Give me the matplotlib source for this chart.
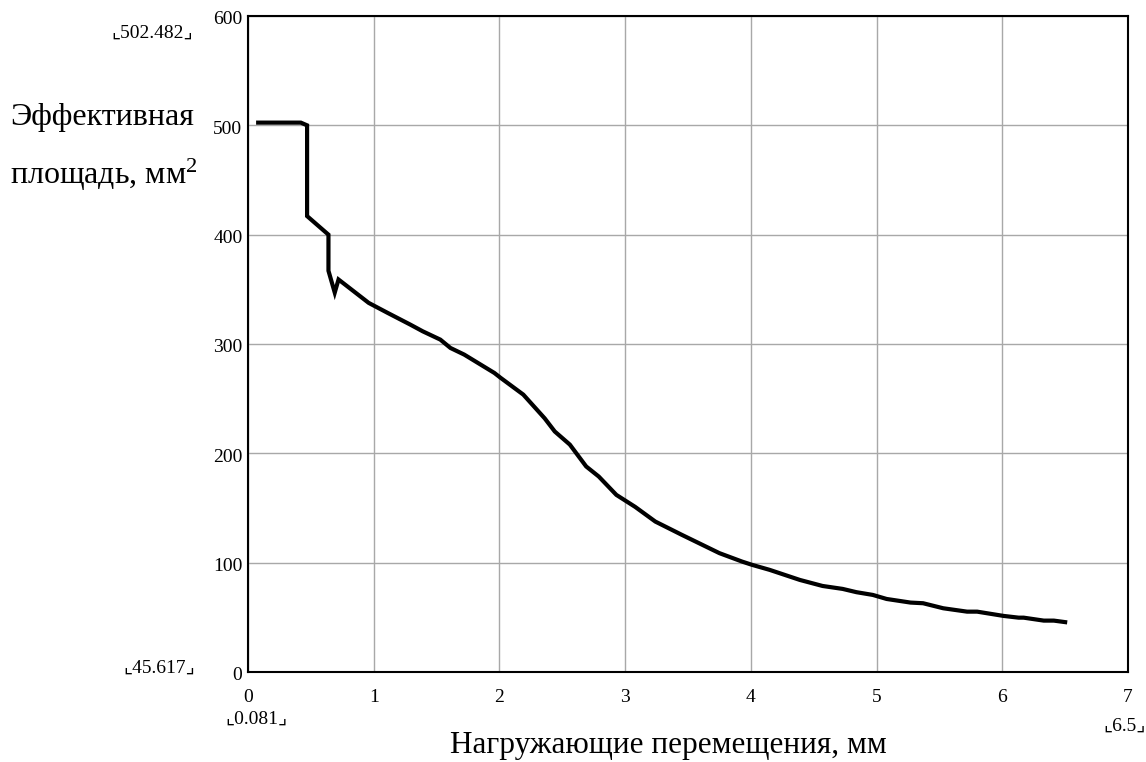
import numpy as np
import matplotlib
matplotlib.use("Agg")
import matplotlib.pyplot as plt
import matplotlib.transforms as mtransforms

plt.rcParams['font.family'] = ['Liberation Serif', 'DejaVu Sans']
plt.rcParams['mathtext.fontset'] = 'custom'
plt.rcParams['mathtext.rm'] = 'Liberation Serif'
plt.rcParams['mathtext.it'] = 'Liberation Serif'

# Load displacement, mm
disp = [0.081, 0.42, 0.47, 0.47, 0.64, 0.64, 0.69, 0.72, 0.96, 1.11, 1.29, 1.39,
        1.53, 1.61, 1.72, 1.96, 2.01, 2.19, 2.36, 2.44, 2.56, 2.69, 2.79, 2.93,
        3.08, 3.24, 3.45, 3.75, 3.93, 4.01, 4.15, 4.39, 4.57, 4.73, 4.84, 4.97,
        5.08, 5.27, 5.37, 5.53, 5.72, 5.80, 6.01, 6.13, 6.17, 6.33, 6.41, 6.5]
# Effective area, mm^2
area = [502.482, 502.482, 500.0, 417.0, 400.0, 367.0, 347.0, 359.0, 337.6, 328.5, 317.8, 311.6,
        304.0, 296.4, 290.3, 273.5, 269.0, 253.7, 232.0, 220.0, 208.0, 188.0, 178.8, 162.0,
        151.0, 137.6, 125.5, 108.7, 101.0, 98.0, 93.4, 84.2, 78.7, 76.0, 73.0, 70.5,
        66.8, 63.5, 62.9, 58.3, 55.2, 55.2, 51.3, 49.7, 49.7, 47.0, 47.0, 45.617]

xticks = [0, 1, 2, 3, 4, 5, 6, 7]
yticks = [0, 100, 200, 300, 400, 500, 600]

W, H = 1146, 762
fig = plt.figure(figsize=(W / 100, H / 100), dpi=100)
ax = fig.add_axes([248 / W, 1 - 672 / H, 880 / W, 656 / H])

ax.plot(disp, area, color='black', lw=3.0, solid_joinstyle='miter')
ax.set_xlim(0, 7)
ax.set_ylim(0, 600)
ax.set_xticks(xticks)
ax.set_yticks(yticks)
ax.grid(True, color='#a8a8a8', lw=1.0)
ax.tick_params(length=0, labelsize=14)
ax.tick_params(axis='x', pad=12.5)
ax.tick_params(axis='y', pad=4)
shift = mtransforms.ScaledTranslation(0, -4 / 100, fig.dpi_scale_trans)
for lab in ax.get_yticklabels():
    lab.set_verticalalignment('center')
    lab.set_transform(lab.get_transform() + shift)
for s in ax.spines.values():
    s.set_linewidth(1.5)

# Mathcad-style range markers
fig.text(193 / W, 1 - 33 / H, '\u231e' + f'{max(area):.3f}' + '\u231f', ha='right', va='center', fontsize=14)
fig.text(195 / W, 1 - 668 / H, '\u231e' + f'{min(area):.3f}' + '\u231f', ha='right', va='center', fontsize=14)
fig.text(256 / W, 1 - 719 / H, '\u231e' + f'{min(disp):.3f}' + '\u231f', ha='center', va='center', fontsize=14)
fig.text(1125 / W, 1 - 726 / H, '\u231e' + f'{max(disp):g}' + '\u231f', ha='center', va='center', fontsize=14)

fig.text(10 / W, 1 - 118 / H, 'Эффективная', ha='left', va='center', fontsize=23)
fig.text(10 / W, 1 - 175 / H, 'площадь, мм$^{2}$', ha='left', va='center', fontsize=23)
fig.text(668 / W, 1 - 745 / H, 'Нагружающие перемещения, мм', ha='center', va='center', fontsize=22.5)

fig.savefig('out.png', dpi=100)
